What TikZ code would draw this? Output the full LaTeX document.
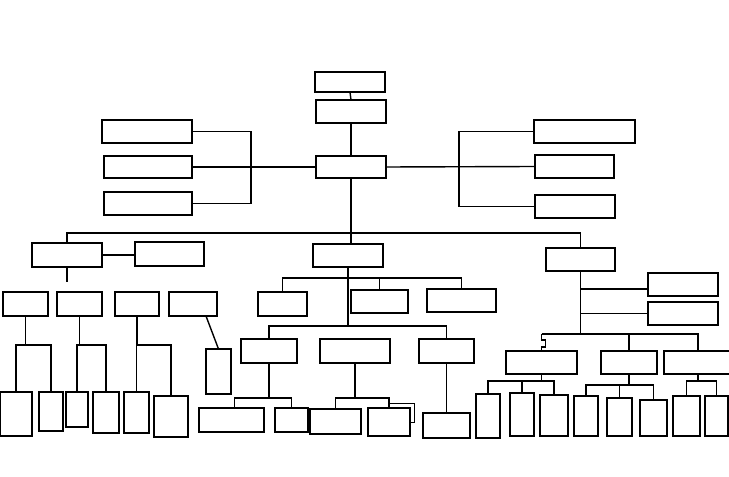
\documentclass[tikz,border=0pt]{standalone}
\newcommand\bx[5]{\node[box,anchor=north west,minimum width={(#4-#2)*1bp},minimum height={(#5-#3)*1bp}] (#1) at (#2,#3) {};}
\begin{document}
\begin{tikzpicture}[x=1bp,y=-1bp,
  box/.style={draw,line width=1.8bp,inner sep=0pt,outer sep=0pt},
  ln/.style={line width=1.4bp},
  busln/.style={line width=1.1bp},
  thinln/.style={line width=0.7bp}]
\useasboundingbox (0,0) rectangle (729,477);
% top part
\bx{top}{315}{72}{385}{92}
\bx{sec}{316}{100}{386}{123}
\bx{ctr}{316}{156}{386}{178}
\bx{l1}{102}{120}{192}{143}
\bx{l2}{104}{156}{192}{178}
\bx{l3}{104}{192}{192}{215}
\bx{r1}{534}{120}{635}{143}
\bx{r2}{535}{155}{614}{178}
\bx{r3}{535}{195}{615}{218}
\coordinate (lbar) at (251,0);
\coordinate (rbar) at (459,0);
\coordinate (bus) at (0,233);
\draw[ln] (top.south) -- (sec.north);
\draw[ln] (sec.south) -- (ctr.north);
\draw[ln] (l1.east) -| (lbar |- l3.east) -- (l3.east);
\draw[ln] (l2.east) -- (ctr.west);
\draw[ln] (r1.west) -| (rbar |- r3.west) -- (r3.west);
\draw[ln] (ctr.east) -- (r2.west);
% level 2
\bx{L}{32}{243}{102}{267}
\bx{L2}{135}{242}{204}{266}
\bx{M}{313}{244}{383}{267}
\bx{R}{546}{248}{615}{271}
\draw[ln] (ctr.south) -- (ctr.south |- M.north);
\draw[busln] (L.north) -- (L.north |- bus) -- (R.north |- bus) -- (R.north);
\draw[ln] (L.east) -- (L.east -| L2.west);
\coordinate (Ld) at (67,282);
\draw[ln] (L.south) -- (Ld);
% left group
\bx{a}{3}{292}{48}{316}
\bx{b}{57}{292}{102}{316}
\bx{c}{115}{292}{159}{316}
\bx{d}{169}{292}{217}{316}
\bx{a1}{0}{392}{32}{436}
\bx{a2}{39}{392}{63}{431}
\bx{b1}{66}{392}{88}{427}
\bx{b2}{93}{392}{119}{433}
\bx{c1}{124}{392}{149}{433}
\bx{c2}{154}{396}{188}{437}
\bx{d1}{206}{349}{231}{394}
\coordinate (ya) at (0,345);
\draw[ln] (a.south) -- (a.south |- ya);
\draw[ln] (a1.north) |- (a2.north |- ya) -- (a2.north);
\draw[ln] (b.south) -- (b.south |- ya);
\draw[ln] (b1.north) |- (b2.north |- ya) -- (b2.north);
\draw[ln] (c.south) -- (c.south |- ya);
\draw[ln] (c1.north) |- (c2.north |- ya) -- (c2.north);
\draw[ln] ([xshift=-11bp]d.south east) -- (d1.north);
% middle group
\bx{M1}{258}{292}{307}{316}
\bx{M2}{351}{290}{408}{313}
\bx{M3}{427}{289}{496}{312}
\bx{N1}{241}{339}{297}{363}
\bx{N2}{320}{339}{390}{363}
\bx{N3}{419}{339}{474}{363}
\bx{N1a}{199}{408}{264}{432}
\bx{N1b}{275}{408}{308}{432}
\bx{N2a}{310}{409}{361}{434}
\bx{N2b}{368}{408}{410}{436}
\bx{N3a}{423}{413}{470}{438}
\coordinate (ym) at (0,278);
\coordinate (yn) at (0,326);
\coordinate (yo) at (0,398);
\draw[ln] (M.south) -- (M.south |- yn);
\draw[busln] (M1.north) |- (M3.north |- ym) -- (M3.north);
\draw[ln] (M2.north) -- (M2.north |- ym);
\draw[ln] (N1.north) |- (N3.north |- yn) -- (N3.north);
\draw[ln] (N1.south) -- (N1.south |- yo);
\draw[ln] ([xshift=3bp]N1a.north) |- (N1b.north |- yo) -- (N1b.north);
\draw[ln] (N2.south) -- (N2.south |- yo);
\draw[ln] (N2a.north) |- (N2b.north |- yo) -- (N2b.north);
\coordinate (xt) at (414,403);
\draw[thinln] (N2b.north |- xt) -- (xt) -- (xt |- 0,422) -- (N2b.east |- 0,422);
\draw[ln] (N3.south) -- (N3a.north);
% right group
\bx{Ra}{648}{273}{718}{296}
\bx{Rb}{648}{302}{718}{325}
\bx{S1}{506}{351}{577}{374}
\bx{S2}{601}{351}{657}{374}
\bx{S3}{664}{351}{732}{374}
\bx{T1}{476}{394}{500}{438}
\bx{T2}{510}{393}{534}{436}
\bx{T3}{540}{395}{568}{436}
\bx{T4}{574}{396}{598}{436}
\bx{T5}{607}{398}{632}{436}
\bx{T6}{640}{400}{667}{436}
\bx{T7}{673}{396}{700}{436}
\bx{T8}{705}{396}{728}{436}
\coordinate (yr) at (0,334);
\coordinate (ys1) at (0,381);
\coordinate (ys2) at (0,385);
\draw[ln] (R.south) -- (R.south |- yr);
\draw[ln] (R.south |- 0,289) -- (Ra.west |- 0,289);
\draw[ln] (R.south |- Rb.west) -- (Rb.west);
\draw[ln] (S1.north |- yr) -- (S3.north |- yr) -- (S3.north);
\draw[ln] (S1.north |- yr) -- ++(0,6) -- ++(4,0) -- ++(0,7) -- ++(-4,0) -- (S1.north);
\draw[ln] (S2.north) -- (S2.north |- yr);
\draw[ln] (S1.south) -- (S1.south |- ys1);
\draw[ln] (T1.north) |- (T3.north |- ys1) -- (T3.north);
\draw[ln] (T2.north) -- (T2.north |- ys1);
\draw[ln] (S2.south) -- (S2.south |- ys2);
\draw[ln] (T4.north) |- (T6.north |- ys2) -- (T6.north);
\draw[ln] (T5.north) -- (T5.north |- ys2);
\draw[ln] (S3.south) -- (S3.south |- ys1);
\draw[ln] (T7.north) |- (T8.north |- ys1) -- (T8.north);
\end{tikzpicture}
\end{document}
